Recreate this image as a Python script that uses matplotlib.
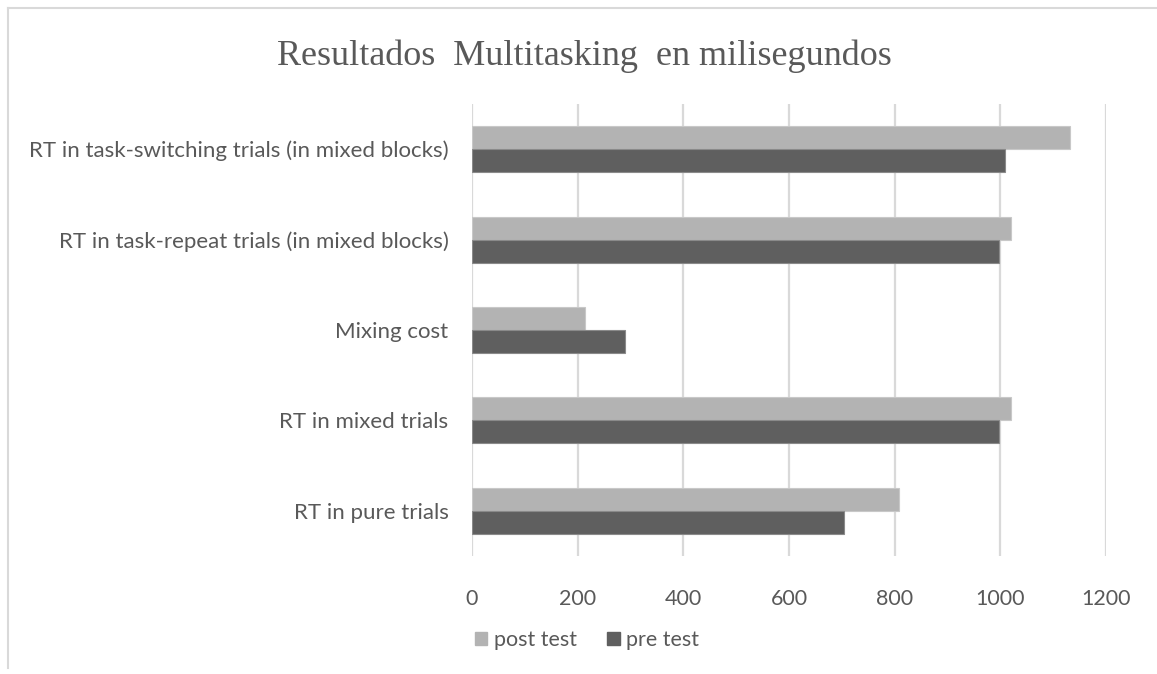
import matplotlib
matplotlib.use("Agg")
import matplotlib.pyplot as plt
from matplotlib.patches import Patch
from matplotlib.lines import Line2D
import numpy as np

categories = [
    "RT in pure trials",
    "RT in mixed trials",
    "Mixing cost",
    "RT in task-repeat trials (in mixed blocks)",
    "RT in task-switching trials (in mixed blocks)",
]
post_test = [809, 1021, 213, 1021, 1131]
pre_test = [705, 997, 290, 997, 1009]
x_ticks = [0, 200, 400, 600, 800, 1000, 1200]
title = "Resultados  Multitasking  en milisegundos"

post_color = "#B3B3B3"
pre_color = "#5F5F5F"
text_color = "#595959"
grid_color = "#D9D9D9"

fig = plt.figure(figsize=(11.57, 6.74), dpi=100)
ax = fig.add_axes([472 / 1157, 1 - 556 / 674, (1106 - 472) / 1157, (556 - 104) / 674])

y = np.arange(len(categories))
h = 0.255
ax.barh(y + h / 2, post_test, height=h, color=post_color, edgecolor="#C8C8C8", linewidth=0.8, zorder=3)
ax.barh(y - h / 2, pre_test, height=h, color=pre_color, edgecolor="#8A8A8A", linewidth=0.8, zorder=3)

ax.set_xlim(0, 1200)
ax.set_ylim(-0.5, len(categories) - 0.5)
ax.set_xticks(x_ticks)
ax.set_xticklabels([str(t) for t in x_ticks])
ax.set_yticks(y)
ax.set_yticklabels(categories)
ax.grid(axis="x", color=grid_color, linewidth=1.6, zorder=0)
for s in ax.spines.values():
    s.set_visible(False)
ax.tick_params(axis="both", length=0, colors=text_color, labelsize=15.5)
ax.tick_params(axis="y", labelsize=16)
ax.tick_params(axis="x", pad=24)
ax.tick_params(axis="y", pad=17)
for lab in ax.get_xticklabels() + ax.get_yticklabels():
    lab.set_fontfamily("Lato")
    lab.set_color(text_color)

fig.text(584 / 1157, 1 - 56 / 674, title, ha="center", va="center",
         fontsize=26, color=text_color, family="Liberation Serif")

handles = [Patch(facecolor=post_color, edgecolor=post_color, label="post test"),
           Patch(facecolor=pre_color, edgecolor=pre_color, label="pre test")]
leg = fig.legend(handles=handles, loc="center", bbox_to_anchor=(587 / 1157, 1 - 640 / 674),
                 ncol=2, frameon=False, handlelength=0.6, handleheight=0.6,
                 handletextpad=0.3, columnspacing=1.4,
                 prop={"family": "Lato", "size": 15.5})
for t in leg.get_texts():
    t.set_color(text_color)

# chart area border (top and left visible)
fig.add_artist(Line2D([8 / 1157, 8 / 1157], [1 - 8 / 674, 1 - 668 / 674], color="#D9D9D9",
                      linewidth=1.5, transform=fig.transFigure))
fig.add_artist(Line2D([8 / 1157, 1.0], [1 - 8 / 674, 1 - 8 / 674], color="#D9D9D9",
                      linewidth=1.5, transform=fig.transFigure))

fig.savefig("out.png", dpi=100, facecolor="white")
